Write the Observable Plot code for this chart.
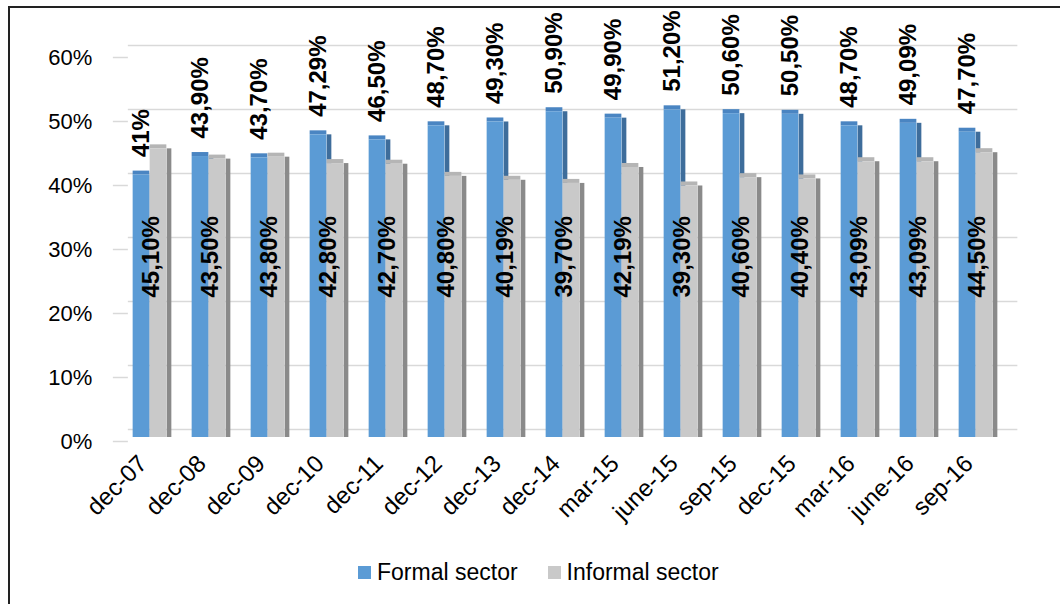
<!DOCTYPE html>
<html>
<head>
<meta charset="utf-8">
<script src="https://cdn.jsdelivr.net/npm/d3@7"></script>
<script src="https://cdn.jsdelivr.net/npm/@observablehq/plot@0.6"></script>
<style>
  html, body { margin: 0; padding: 0; background: #fff; }
  #wrap { position: relative; width: 1060px; height: 604px; overflow: hidden; font-family: "Liberation Sans", Arial, sans-serif; }
  #frame { position: absolute; left: 8px; top: 6px; width: 1100px; height: 700px; border-top: 2px solid #222; border-left: 2px solid #222; }
  #chart { position: absolute; left: 0; top: 0; }
  #legend { position: absolute; left: 358px; top: 559px; display: flex; align-items: center; font-size: 23px; color: #000; line-height: 26px; }
  #legend .item { display: flex; align-items: center; }
  #legend .sw { width: 13px; height: 13px; margin-right: 6px; }
  g[aria-label="slant"] line { transform-box: fill-box; transform-origin: 0 0; transform: skewY(-38.66deg); }
  g[aria-label="side"] rect { transform-box: fill-box; transform-origin: 0 0; transform: skewY(-38.66deg); }
  g[aria-label="top"] rect { transform-box: fill-box; transform-origin: 0 100%; transform: skewX(-51.34deg); }
</style>
</head>
<body>
<div id="wrap">
  <div id="frame"></div>
  <div id="chart"></div>
  <div id="legend"></div>
</div>
<script>
const categories = ["dec-07","dec-08","dec-09","dec-10","dec-11","dec-12","dec-13","dec-14","mar-15","june-15","sep-15","dec-15","mar-16","june-16","sep-16"];
const formal = [41, 43.9, 43.7, 47.29, 46.5, 48.7, 49.3, 50.9, 49.9, 51.2, 50.6, 50.5, 48.7, 49.09, 47.7];
const informal = [45.1, 43.5, 43.8, 42.8, 42.7, 40.8, 40.19, 39.7, 42.19, 39.3, 40.6, 40.4, 43.09, 43.09, 44.5];
const formalLabels = ["41%","43,90%","43,70%","47,29%","46,50%","48,70%","49,30%","50,90%","49,90%","51,20%","50,60%","50,50%","48,70%","49,09%","47,70%"];
const informalLabels = ["45,10%","43,50%","43,80%","42,80%","42,70%","40,80%","40,19%","39,70%","42,19%","39,30%","40,60%","40,40%","43,09%","43,09%","44,50%"];
const yTicks = [0, 10, 20, 30, 40, 50, 60];
const seriesNames = ["Formal sector", "Informal sector"];
const colors = {front: ["#5b9bd5", "#c9c9c9"], side: ["#3e6d9b", "#8a8a8a"], top: ["#4a85c2", "#b5b5b5"]};

const rows = categories.map((c, i) => ({cat: c, formal: formal[i], informal: informal[i], fl: formalLabels[i], il: informalLabels[i]}));

const W = 1060, H = 540, ML = 117.85, MR = 52.65, MT = 53, MB = 103;
const bw = (W - ML - MR) / categories.length; // band width
const half = bw / 2, barW = 17, depth = 5;
const frameW = W - ML - MR;

const font = '"Liberation Sans", Arial, sans-serif';

const chart = Plot.plot({
  width: W, height: H,
  marginLeft: ML, marginRight: MR, marginTop: MT, marginBottom: MB,
  style: {fontFamily: font, fontSize: "22px", color: "#000", background: "transparent", overflow: "visible"},
  x: {domain: categories, padding: 0, label: null},
  y: {domain: [0, 60], label: null},
  marks: [
    Plot.ruleY(yTicks, {dx: 10, dy: -8, stroke: "#d9d9d9", strokeWidth: 1.5}),
    Plot.ruleY(yTicks, {dx: -5, dy: 4, insetRight: frameW - 15, stroke: "#d9d9d9", strokeWidth: 1.5, ariaLabel: "slant"}),
    // formal series
    Plot.barY(rows, {x: "cat", y1: 0, y2: "formal", insetLeft: half, insetRight: half - depth, fill: colors.side[0], ariaLabel: "side"}),
    Plot.barY(rows, {x: "cat", y1: "formal", y2: "formal", insetTop: -4, insetLeft: half - barW, insetRight: half, fill: colors.top[0], ariaLabel: "top"}),
    Plot.barY(rows, {x: "cat", y1: 0, y2: "formal", insetLeft: half - barW, insetRight: half, fill: colors.front[0]}),
    // informal series
    Plot.barY(rows, {x: "cat", y1: 0, y2: "informal", insetLeft: half + barW, insetRight: half - barW - depth, fill: colors.side[1], ariaLabel: "side"}),
    Plot.barY(rows, {x: "cat", y1: "informal", y2: "informal", insetTop: -4, insetLeft: half, insetRight: half - barW, fill: colors.top[1], ariaLabel: "top"}),
    Plot.barY(rows, {x: "cat", y1: 0, y2: "informal", insetLeft: half, insetRight: half - barW, fill: colors.front[1]}),
    // labels
    Plot.text(rows, {x: "cat", y: "formal", text: "fl", rotate: -90, textAnchor: "start", dx: -barW / 2, dy: -18, fontSize: 24, fontWeight: "bold", fill: "#000"}),
    Plot.text(rows, {x: "cat", frameAnchor: "bottom", text: "il", rotate: -90, textAnchor: "start", dx: barW / 2, dy: -140, fontSize: 24, fontWeight: "bold", fill: "#000"}),
    // axes
    Plot.axisY(yTicks, {tickSize: 0, tickPadding: 26, dy: 4, tickFormat: d => d + "%", fontSize: 22, fill: "#000"}),
    Plot.axisX({tickRotate: -45, tickSize: 0, tickPadding: 22, dx: -7, fontSize: 24, fill: "#000"})
  ]
});
document.getElementById("chart").appendChild(chart);

const legend = document.getElementById("legend");
seriesNames.forEach((name, i) => {
  const item = document.createElement("div");
  item.className = "item";
  if (i > 0) item.style.marginLeft = "30px";
  const sw = document.createElement("div");
  sw.className = "sw";
  sw.style.background = colors.front[i];
  const t = document.createElement("span");
  t.textContent = name;
  item.appendChild(sw); item.appendChild(t);
  legend.appendChild(item);
});
</script>
</body>
</html>
